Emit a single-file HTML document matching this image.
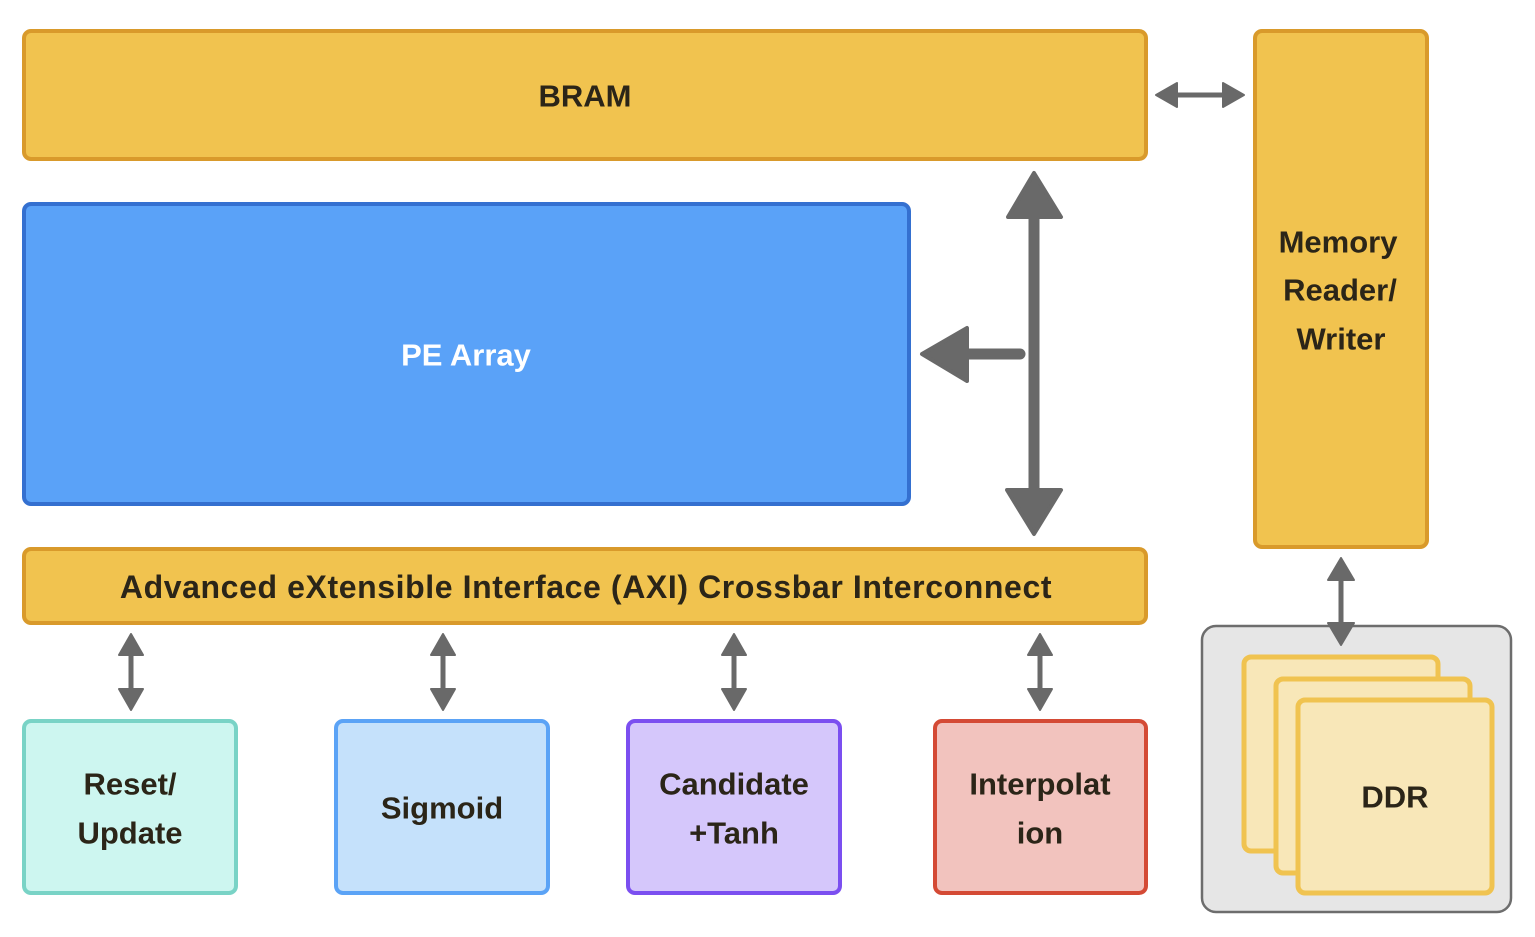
<!DOCTYPE html>
<html><head><meta charset="utf-8"><style>
html,body{margin:0;padding:0;background:#fff;}
text{font-family:"Liberation Sans",sans-serif;font-weight:bold;font-size:31px;fill:#2b2518;text-anchor:middle;dominant-baseline:central;}
</style></head><body>
<svg width="1535" height="932" viewBox="0 0 1535 932" xmlns="http://www.w3.org/2000/svg">
<rect x="24" y="31" width="1122" height="128" rx="7" fill="#f1c34f" stroke="#d99a2b" stroke-width="4"/>
<text x="585" y="96">BRAM</text>
<rect x="24" y="204" width="885" height="300" rx="7" fill="#5aa2f8" stroke="#3470d0" stroke-width="4"/>
<text x="466" y="355" style="fill:#fff">PE Array</text>
<rect x="24" y="549" width="1122" height="74" rx="7" fill="#f1c34f" stroke="#d99a2b" stroke-width="4"/>
<text x="586" y="587" style="font-size:32px;letter-spacing:0.6px">Advanced eXtensible Interface (AXI) Crossbar Interconnect</text>
<rect x="1255" y="31" width="172" height="516" rx="7" fill="#f1c34f" stroke="#d99a2b" stroke-width="4"/>
<text x="1338" y="242">Memory</text><text x="1340" y="290">Reader/</text><text x="1341" y="339">Writer</text>

<rect x="24" y="721" width="212" height="172" rx="7" fill="#cdf6f0" stroke="#79d3c6" stroke-width="4"/>
<text x="130" y="784">Reset/</text><text x="130" y="833">Update</text>
<rect x="336" y="721" width="212" height="172" rx="7" fill="#c5e1fb" stroke="#5ba3f6" stroke-width="4"/>
<text x="442" y="808">Sigmoid</text>
<rect x="628" y="721" width="212" height="172" rx="7" fill="#d5c7fb" stroke="#7b4ff0" stroke-width="4"/>
<text x="734" y="784">Candidate</text><text x="734" y="833">+Tanh</text>
<rect x="935" y="721" width="211" height="172" rx="7" fill="#f2c3be" stroke="#d44a35" stroke-width="4"/>
<text x="1040" y="784">Interpolat</text><text x="1040" y="833">ion</text>

<rect x="1202" y="626" width="309" height="286" rx="14" fill="#e6e6e6" stroke="#6d6d6d" stroke-width="2.5"/>
<rect x="1244" y="657" width="194" height="194" rx="7" fill="#f8e7b8" stroke="#f0c350" stroke-width="5"/>
<rect x="1276" y="679" width="194" height="194" rx="7" fill="#f8e7b8" stroke="#f0c350" stroke-width="5"/>
<rect x="1298" y="700" width="194" height="193" rx="7" fill="#f8e7b8" stroke="#f0c350" stroke-width="5"/>
<text x="1395" y="797">DDR</text>

<g fill="#696969" stroke="#696969" stroke-linejoin="round" stroke-linecap="round">
<line x1="1034" y1="210" x2="1034" y2="495" stroke-width="11"/>
<path d="M1034,173 L1061,217 L1008,217 Z" stroke-width="4"/>
<path d="M1034,534 L1061,490 L1007,490 Z" stroke-width="4"/>
<line x1="960" y1="354" x2="1020" y2="354" stroke-width="11"/>
<path d="M922,354 L967,328 L967,381 Z" stroke-width="4"/>
<line x1="1170" y1="95" x2="1230" y2="95" stroke-width="5"/>
<path d="M1156,95 L1177,83 L1177,107 Z" stroke-width="2"/>
<path d="M1244,95 L1223,83 L1223,107 Z" stroke-width="2"/>
<line x1="1341" y1="575" x2="1341" y2="630" stroke-width="5"/>
<path d="M1341,558 L1354,580 L1328,580 Z" stroke-width="2"/>
<path d="M1341,645 L1354,623 L1328,623 Z" stroke-width="2"/>
<line x1="131" y1="645" x2="131" y2="698" stroke-width="5"/><path d="M131,634 L143,655 L119,655 Z" stroke-width="2"/><path d="M131,710 L143,689 L119,689 Z" stroke-width="2"/>
<line x1="443" y1="645" x2="443" y2="698" stroke-width="5"/><path d="M443,634 L455,655 L431,655 Z" stroke-width="2"/><path d="M443,710 L455,689 L431,689 Z" stroke-width="2"/>
<line x1="734" y1="645" x2="734" y2="698" stroke-width="5"/><path d="M734,634 L746,655 L722,655 Z" stroke-width="2"/><path d="M734,710 L746,689 L722,689 Z" stroke-width="2"/>
<line x1="1040" y1="645" x2="1040" y2="698" stroke-width="5"/><path d="M1040,634 L1052,655 L1028,655 Z" stroke-width="2"/><path d="M1040,710 L1052,689 L1028,689 Z" stroke-width="2"/>
</g>
</svg>
</body></html>
